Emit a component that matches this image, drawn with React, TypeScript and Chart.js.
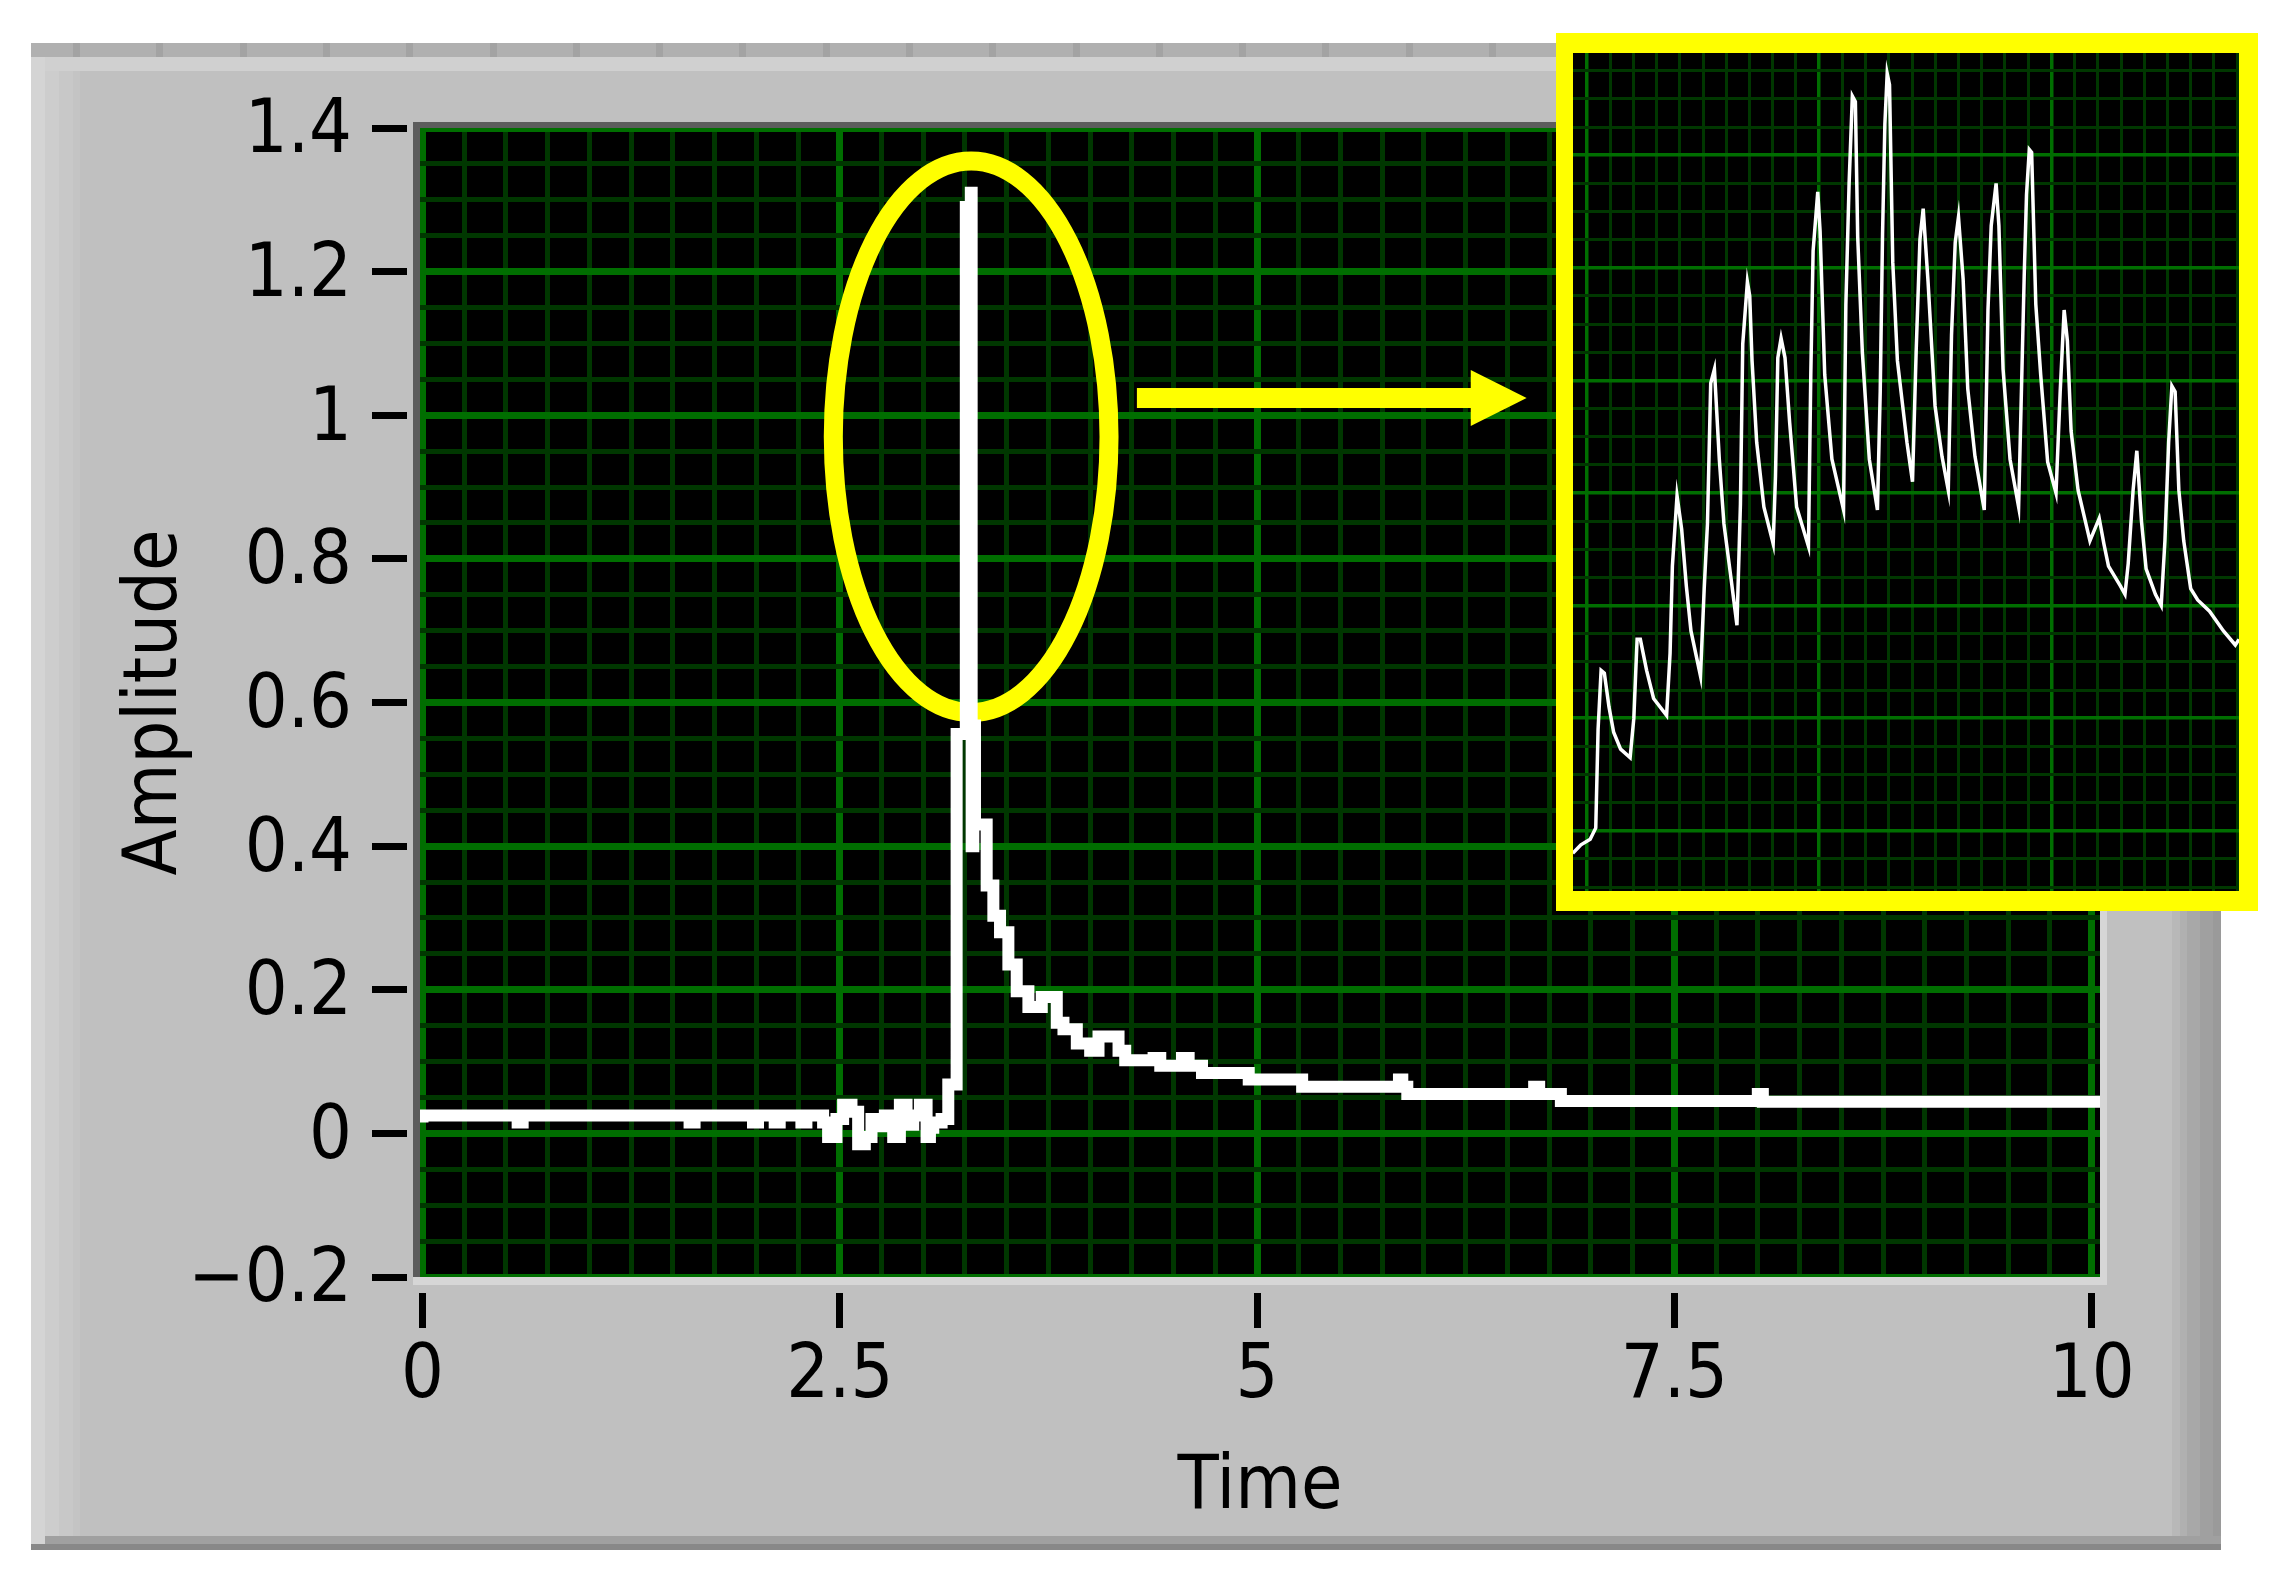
import React, { useEffect, useRef } from "react";
import { Chart, registerables } from "chart.js";

Chart.register(...registerables);

// ---------------- main trace (Time / Amplitude) ----------------
const TIME = [
  0, 0.57, 0.6, 1.6, 1.63, 1.98, 2.01, 2.11, 2.14, 2.27,
  2.3, 2.4, 2.43, 2.48, 2.52, 2.57, 2.61, 2.65, 2.69, 2.73,
  2.77, 2.82, 2.86, 2.9, 2.94, 2.98, 3.02, 3.04, 3.06, 3.11,
  3.15, 3.2, 3.255, 3.285, 3.29, 3.3, 3.31, 3.38, 3.42, 3.46,
  3.51, 3.56, 3.63, 3.71, 3.8, 3.84, 3.92, 4.0, 4.05, 4.17,
  4.21, 4.38, 4.42, 4.55, 4.59, 4.67, 4.95, 5.27, 5.85, 5.87,
  5.9, 6.66, 6.69, 6.82, 8.0, 8.03, 8.16, 10.05,
];
const AMPLITUDE = [
  0.015, 0.025, 0.015, 0.025, 0.015, 0.025, 0.015, 0.025, 0.015, 0.025,
  0.015, 0.025, 0.015, -0.005, 0.02, 0.04, 0.03, -0.015, -0.005, 0.02,
  0.01, 0.025, -0.005, 0.04, 0.012, 0.025, 0.04, -0.005, 0.008, 0.015,
  0.02, 0.068, 0.556, 1.29, 1.31, 0.4, 0.568, 0.43, 0.345, 0.303,
  0.28, 0.235, 0.198, 0.176, 0.19, 0.154, 0.145, 0.125, 0.115, 0.135,
  0.115, 0.102, 0.105, 0.094, 0.105, 0.094, 0.084, 0.075, 0.065, 0.075,
  0.065, 0.055, 0.065, 0.055, 0.045, 0.055, 0.044, 0.044,
];

// axis tick values / labels
const X_MAJOR = [0, 2.5, 5, 7.5, 10];
const X_TICK_LABELS = ["0", "2.5", "5", "7.5", "10"];
const Y_MAJOR = [-0.2, 0, 0.2, 0.4, 0.6, 0.8, 1, 1.2, 1.4];
const Y_TICK_LABELS = ["\u22120.2", "0", "0.2", "0.4", "0.6", "0.8", "1", "1.2", "1.4"];
const X_MINOR_STEP = 0.25;
const Y_MINOR_STEP = 0.05;

// ---------------- zoomed inset trace ----------------
const INSET_X = [
  -0.61, -0.26, 0.14, 0.38, 0.48, 0.61, 0.75, 0.95, 1.15, 1.45,
  1.86, 2.02, 2.16, 2.3, 2.57, 2.87, 3.43, 3.58, 3.68, 3.88,
  4.08, 4.28, 4.48, 4.89, 5.05, 5.19, 5.33, 5.49, 5.7, 5.9,
  6.2, 6.46, 6.61, 6.71, 6.91, 7.01, 7.11, 7.31, 7.62, 8.02,
  8.12, 8.22, 8.36, 8.53, 8.73, 9.03, 9.54, 9.64, 9.74, 9.94,
  10.04, 10.24, 10.55, 11.05, 11.15, 11.29, 11.43, 11.56, 11.66, 11.86,
  12.16, 12.51, 12.63, 12.73, 12.83, 12.93, 13.03, 13.17, 13.37, 13.78,
  14.02, 14.18, 14.34, 14.48, 14.69, 14.99, 15.29, 15.56, 15.7, 15.86,
  16.0, 16.2, 16.4, 16.71, 17.11, 17.27, 17.41, 17.62, 17.74, 17.92,
  18.22, 18.59, 18.83, 18.93, 19.05, 19.15, 19.33, 19.54, 19.84, 20.2,
  20.38, 20.55, 20.69, 20.85, 21.15, 21.66, 22.06, 22.26, 22.46, 22.97,
  23.17, 23.31, 23.52, 23.68, 23.88, 24.08, 24.48, 24.73, 24.89, 25.05,
  25.19, 25.33, 25.49, 25.7, 26.0, 26.3, 26.81, 27.41, 27.92, 28.08,
];
const INSET_Y = [
  -0.8, -0.5, -0.3, 0.1, 3.6, 5.7, 5.6, 4.4, 3.5, 2.9,
  2.6, 4.0, 6.8, 6.8, 5.7, 4.7, 4.1, 6.3, 9.4, 11.9,
  10.7, 8.7, 7.1, 5.5, 8.6, 10.9, 15.9, 16.4, 13.2, 10.9,
  9.0, 7.3, 11.6, 17.3, 19.5, 19.0, 16.7, 13.8, 11.5, 10.2,
  12.6, 16.8, 17.5, 16.8, 14.5, 11.5, 10.1, 16.2, 20.6, 22.7,
  21.3, 16.2, 13.2, 11.4, 18.7, 23.0, 26.1, 25.9, 21.1, 17.0,
  13.2, 11.4, 15.6, 21.2, 25.1, 26.9, 26.5, 20.2, 16.7, 13.8,
  12.4, 17.1, 21.0, 22.1, 19.5, 15.1, 13.3, 12.1, 17.6, 20.9,
  21.8, 19.6, 15.7, 13.3, 11.4, 18.5, 21.5, 23.0, 21.5, 16.4,
  13.2, 11.5, 19.7, 22.6, 24.2, 24.1, 18.7, 16.2, 13.1, 12.0,
  15.6, 18.5, 17.4, 14.2, 12.1, 10.3, 11.1, 10.2, 9.4, 8.7,
  8.4, 9.5, 12.1, 13.5, 11.0, 9.3, 8.4, 8.0, 10.3, 13.8,
  15.8, 15.6, 12.1, 10.3, 8.6, 8.2, 7.8, 7.1, 6.6, 6.8,
];

// annotation (in data units of the main chart)
const ZOOM_ELLIPSE = { x: 3.287, y: 0.97, rx: 0.826, ry: 0.384 };
const ZOOM_ARROW = { from: 4.28, headBase: 6.28, tip: 6.615, y: 1.024, headHalf: 0.039 };

// ---------------- styles ----------------
const FONT = { family: '"DejaVu Sans Condensed", "DejaVu Sans", sans-serif', size: 75 };
const MAJOR_GREEN = "#006e00";
const MINOR_GREEN = "#003700";
const YELLOW = "#ffff00";

const near = (a: number, b: number) => Math.abs(a - b) < 1e-6;
const majorIndex = (arr: number[], v: number) => arr.findIndex((m) => near(m, v));

function gridValues(min: number, max: number, step: number) {
  const out: number[] = [];
  const n = Math.round((max - min) / step);
  for (let i = 0; i <= n; i++) out.push(Math.round((min + i * step) * 1000) / 1000);
  return out;
}

const X_GRID = gridValues(0, 10, X_MINOR_STEP);
const Y_GRID = gridValues(-0.2, 1.4, Y_MINOR_STEP);
const INSET_X_GRID = gridValues(0, 28, 1);
const INSET_Y_GRID = gridValues(-2, 27, 1);

const framePlugin = {
  id: "labviewFrame",
  beforeDraw(chart: any) {
    const { ctx, width, height, chartArea: a } = chart;
    ctx.save();
    ctx.fillStyle = "#ffffff";
    ctx.fillRect(0, 0, width, height);
    // panel
    ctx.fillStyle = "#c0c0c0";
    ctx.fillRect(31, 43, 2190, 1507);
    // top ruler band
    ctx.fillStyle = "#b0b0b0";
    ctx.fillRect(31, 43, 2190, 14);
    ctx.fillStyle = "#a3a3a3";
    for (let x = 73; x < 2172; x += 83.3) ctx.fillRect(Math.round(x), 43, 7, 14);
    ctx.fillStyle = "#d0d0d0";
    ctx.fillRect(31, 57, 2190, 14);
    // left bevel
    ctx.fillStyle = "#d4d4d4";
    ctx.fillRect(31, 57, 14, 1487);
    ctx.fillStyle = "#cdcdcd";
    ctx.fillRect(45, 71, 14, 1465);
    ctx.fillStyle = "#c8c8c8";
    ctx.fillRect(59, 71, 14, 1465);
    ctx.fillStyle = "#c4c4c4";
    ctx.fillRect(73, 71, 7, 1465);
    // right bevel
    const rb: [string, number, number][] = [
      ["#b8b8b8", 2172, 8],
      ["#b0b0b0", 2180, 7],
      ["#a8a8a8", 2187, 13],
      ["#a0a0a0", 2200, 13],
      ["#9a9a9a", 2213, 8],
    ];
    rb.forEach(([c, x, w]) => {
      ctx.fillStyle = c;
      ctx.fillRect(x, 57, w, 1479);
    });
    // bottom bevel
    ctx.fillStyle = "#a0a0a0";
    ctx.fillRect(45, 1536, 2176, 8);
    ctx.fillStyle = "#888888";
    ctx.fillRect(31, 1544, 2190, 6);
    // plot background
    ctx.fillStyle = "#000000";
    ctx.fillRect(a.left, a.top, a.right - a.left, a.bottom - a.top);
    ctx.restore();
  },
  beforeDatasetsDraw(chart: any) {
    const { ctx } = chart;
    const { x, y } = chart.scales;
    ctx.save();
    // ellipse marking the spike
    const cx = x.getPixelForValue(ZOOM_ELLIPSE.x);
    const cy = y.getPixelForValue(ZOOM_ELLIPSE.y);
    const rx = Math.abs(x.getPixelForValue(ZOOM_ELLIPSE.x + ZOOM_ELLIPSE.rx) - cx);
    const ry = Math.abs(y.getPixelForValue(ZOOM_ELLIPSE.y + ZOOM_ELLIPSE.ry) - cy);
    ctx.strokeStyle = YELLOW;
    ctx.lineWidth = 19;
    ctx.beginPath();
    ctx.ellipse(cx, cy, rx, ry, 0, 0, Math.PI * 2);
    ctx.stroke();
    // arrow to the inset
    const ay = y.getPixelForValue(ZOOM_ARROW.y);
    const x0 = x.getPixelForValue(ZOOM_ARROW.from);
    const xb = x.getPixelForValue(ZOOM_ARROW.headBase);
    const xt = x.getPixelForValue(ZOOM_ARROW.tip);
    const hh = Math.abs(y.getPixelForValue(ZOOM_ARROW.y + ZOOM_ARROW.headHalf) - ay);
    ctx.fillStyle = YELLOW;
    ctx.fillRect(x0, ay - 10, xb - x0 + 1, 20);
    ctx.beginPath();
    ctx.moveTo(xb, ay - hh);
    ctx.lineTo(xt, ay);
    ctx.lineTo(xb, ay + hh);
    ctx.closePath();
    ctx.fill();
    ctx.restore();
  },
  afterDraw(chart: any) {
    const { ctx, chartArea: a } = chart;
    const { x, y } = chart.scales;
    ctx.save();
    // plot frame (dark top/left, light bottom/right)
    ctx.fillStyle = "#5c5c5c";
    ctx.fillRect(a.left - 7, a.top - 6, a.right - a.left + 7, 6);
    ctx.fillRect(a.left - 7, a.top - 6, 7, a.bottom - a.top + 6);
    ctx.fillStyle = "#d6d6d6";
    ctx.fillRect(a.left - 7, a.bottom, a.right - a.left + 14, 8);
    ctx.fillRect(a.right, a.top - 6, 7, a.bottom - a.top + 14);
    // tick marks
    ctx.fillStyle = "#000000";
    Y_MAJOR.forEach((v) => {
      const py = y.getPixelForValue(v);
      ctx.fillRect(a.left - 48, Math.round(py - 3.5), 35, 7);
    });
    X_MAJOR.forEach((v) => {
      const px = x.getPixelForValue(v);
      ctx.fillRect(Math.round(px - 3.5), a.bottom + 16, 7, 35);
    });
    ctx.restore();
  },
};

const insetPlugin = {
  id: "insetBg",
  beforeDraw(chart: any) {
    const { ctx, width, height } = chart;
    ctx.save();
    ctx.fillStyle = "#000000";
    ctx.fillRect(0, 0, width, height);
    ctx.restore();
  },
};

export default function App() {
  const mainRef = useRef<HTMLCanvasElement>(null);
  const insetRef = useRef<HTMLCanvasElement>(null);

  useEffect(() => {
    document.body.style.margin = "0";
    const main = new Chart(mainRef.current as HTMLCanvasElement, {
      type: "line",
      data: {
        datasets: [
          {
            data: TIME.map((t, i) => ({ x: t, y: AMPLITUDE[i] })),
            borderColor: "#ffffff",
            borderWidth: 12,
            pointRadius: 0,
            stepped: "after",
            fill: false,
            borderCapStyle: "butt",
            borderJoinStyle: "miter",
          },
        ],
      },
      options: {
        animation: false,
        responsive: false,
        maintainAspectRatio: false,
        devicePixelRatio: 1,
        events: [],
        layout: { padding: { top: 128, right: 195, bottom: 0, left: 0 }, autoPadding: false },
        plugins: { legend: { display: false }, tooltip: { enabled: false } },
        scales: {
          x: {
            type: "linear",
            min: -0.015,
            max: 10.05,
            afterBuildTicks: (s: any) => {
              s.ticks = X_GRID.map((v) => ({ value: v }));
            },
            afterFit: (s: any) => {
              s.height = 314;
            },
            border: { display: false },
            grid: {
              drawTicks: false,
              color: (c: any) => (majorIndex(X_MAJOR, c.tick?.value) >= 0 ? MAJOR_GREEN : MINOR_GREEN),
              lineWidth: (c: any) => (majorIndex(X_MAJOR, c.tick?.value) >= 0 ? 7 : 5),
            },
            ticks: {
              autoSkip: false,
              maxRotation: 0,
              minRotation: 0,
              padding: 56,
              color: "#000000",
              font: FONT,
              callback: (v: any) => {
                const i = majorIndex(X_MAJOR, Number(v));
                return i >= 0 ? X_TICK_LABELS[i] : "";
              },
            },
            title: {
              display: true,
              text: "Time",
              color: "#000000",
              font: FONT,
              padding: { top: 0, bottom: 57 },
            },
          },
          y: {
            type: "linear",
            min: -0.2,
            max: 1.4,
            afterBuildTicks: (s: any) => {
              s.ticks = Y_GRID.map((v) => ({ value: v }));
            },
            afterFit: (s: any) => {
              s.width = 420;
            },
            border: { display: false },
            grid: {
              drawTicks: false,
              color: (c: any) => (majorIndex(Y_MAJOR, c.tick?.value) >= 0 ? MAJOR_GREEN : MINOR_GREEN),
              lineWidth: (c: any) => (majorIndex(Y_MAJOR, c.tick?.value) >= 0 ? 7 : 5),
            },
            ticks: {
              autoSkip: false,
              padding: 68,
              labelOffset: 5,
              color: "#000000",
              font: FONT,
              callback: (v: any) => {
                const i = majorIndex(Y_MAJOR, Number(v));
                return i >= 0 ? Y_TICK_LABELS[i] : "";
              },
            },
            title: {
              display: true,
              text: "Amplitude",
              color: "#000000",
              font: FONT,
              padding: { top: 112, bottom: 0 },
            },
          },
        },
      } as any,
      plugins: [framePlugin],
    } as any);

    const inset = new Chart(insetRef.current as HTMLCanvasElement, {
      type: "line",
      data: {
        datasets: [
          {
            data: INSET_X.map((t, i) => ({ x: t, y: INSET_Y[i] })),
            borderColor: "#ffffff",
            borderWidth: 3.5,
            pointRadius: 0,
            fill: false,
            tension: 0,
            borderJoinStyle: "miter",
          },
        ],
      },
      options: {
        animation: false,
        responsive: false,
        maintainAspectRatio: false,
        devicePixelRatio: 1,
        events: [],
        layout: { padding: 0, autoPadding: false },
        plugins: { legend: { display: false }, tooltip: { enabled: false } },
        scales: {
          x: {
            type: "linear",
            min: -0.6,
            max: 28.08,
            afterBuildTicks: (s: any) => {
              s.ticks = INSET_X_GRID.map((v) => ({ value: v }));
            },
            afterFit: (s: any) => {
              s.height = 0;
            },
            border: { display: false },
            ticks: { display: false },
            grid: {
              drawTicks: false,
              color: (c: any) => (c.tick && c.tick.value % 10 === 0 ? MAJOR_GREEN : MINOR_GREEN),
              lineWidth: (c: any) => (c.tick && c.tick.value % 10 === 0 ? 3.5 : 3),
            },
          },
          y: {
            type: "linear",
            min: -2.14,
            max: 27.63,
            afterBuildTicks: (s: any) => {
              s.ticks = INSET_Y_GRID.map((v) => ({ value: v }));
            },
            afterFit: (s: any) => {
              s.width = 0;
            },
            border: { display: false },
            ticks: { display: false },
            grid: {
              drawTicks: false,
              color: (c: any) => (c.tick && c.tick.value % 4 === 0 ? MAJOR_GREEN : MINOR_GREEN),
              lineWidth: (c: any) => (c.tick && c.tick.value % 4 === 0 ? 3.5 : 3),
            },
          },
        },
      } as any,
      plugins: [insetPlugin],
    } as any);

    return () => {
      main.destroy();
      inset.destroy();
    };
  }, []);

  return (
    <div style={{ position: "relative", width: 2295, height: 1591, background: "#ffffff", overflow: "hidden" }}>
      <canvas
        ref={mainRef}
        width={2295}
        height={1591}
        style={{ position: "absolute", left: 0, top: 0, width: 2295, height: 1591 }}
      />
      <div
        style={{
          position: "absolute",
          left: 1556,
          top: 33,
          width: 666,
          height: 838,
          borderStyle: "solid",
          borderColor: YELLOW,
          borderWidth: "20px 19px 20px 17px",
          background: "#000000",
        }}
      >
        <canvas ref={insetRef} width={666} height={838} style={{ display: "block", width: 666, height: 838 }} />
      </div>
    </div>
  );
}
